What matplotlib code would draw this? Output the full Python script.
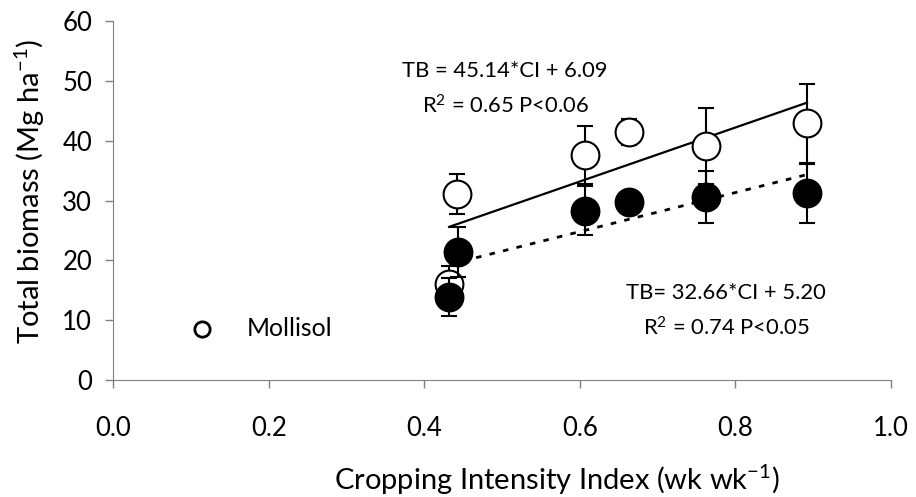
import matplotlib.pyplot as plt
import numpy as np

plt.rcParams['font.family'] = ['Lato', 'DejaVu Sans']
plt.rcParams['mathtext.fontset'] = 'custom'
plt.rcParams['mathtext.rm'] = 'Lato'
plt.rcParams['mathtext.it'] = 'Lato:italic'
plt.rcParams['mathtext.bf'] = 'Lato:bold'

# Open circles (Mollisol)
ci_open = [0.432, 0.442, 0.607, 0.663, 0.762, 0.892]
tb_open = [16.0, 31.1, 37.6, 41.5, 39.1, 42.9]
err_open = [3.1, 3.4, 4.9, 2.2, 6.4, 6.6]

# Filled circles
ci_fill = [0.432, 0.443, 0.607, 0.663, 0.762, 0.892]
tb_fill = [13.9, 21.4, 28.3, 29.8, 30.6, 31.2]
err_fill = [3.2, 4.2, 4.1, 0.0, 4.3, 4.9]

# regression fits (slope, intercept)
fit_open = (45.14, 6.09)
fit_fill = (32.66, 5.20)

fig = plt.figure(figsize=(9.16, 4.97), dpi=100)
ax = fig.add_axes([0.1234, 0.2354, 0.8493, 0.7223])

xs = np.array([min(ci_open), max(ci_open)])
ax.plot(xs, fit_open[0] * xs + fit_open[1], color='black', lw=1.6, zorder=1)
xf = np.array([min(ci_fill), max(ci_fill)])
ax.plot(xf, fit_fill[0] * xf + fit_fill[1], color='black', lw=2.0,
        linestyle=(0, (2, 3)), zorder=1)

ax.errorbar(ci_open, tb_open, yerr=err_open, fmt='o', ms=20, mfc='white',
            mec='black', mew=1.5, ecolor='black', elinewidth=1.5, capsize=6,
            capthick=1.5, zorder=2)
ax.errorbar(ci_fill, tb_fill, yerr=err_fill, fmt='o', ms=20, mfc='black',
            mec='black', mew=1.5, ecolor='black', elinewidth=1.5, capsize=6,
            capthick=1.5, zorder=3)

# legend entry
ax.plot([0.1144], [8.6], 'o', ms=11, mfc='white', mec='black', mew=2)
ax.text(0.172, 7.35, 'Mollisol', fontsize=17.8, va='baseline', ha='left')

ax.text(0.504, 50.6, 'TB = 45.14*CI + 6.09', fontsize=15.8, ha='center', va='baseline')
ax.text(0.505, 44.6, 'R$^2$ = 0.65 P<0.06', fontsize=15.8, ha='center', va='baseline')
ax.text(0.788, 13.5, 'TB= 32.66*CI + 5.20', fontsize=15.8, ha='center', va='baseline')
ax.text(0.788, 7.5, 'R$^2$ = 0.74 P<0.05', fontsize=15.8, ha='center', va='baseline')

ax.set_xlim(0, 1.0)
ax.set_ylim(0, 60)
ax.set_xticks(np.arange(0, 1.01, 0.2))
ax.set_xticklabels(['0.0', '0.2', '0.4', '0.6', '0.8', '1.0'])
ax.set_yticks(np.arange(0, 61, 10))
ax.tick_params(axis='both', labelsize=18.5, direction='out', length=6,
               color='#808080', width=1)
ax.tick_params(axis='x', pad=20)
ax.tick_params(axis='y', pad=9)
ax.spines['top'].set_visible(False)
ax.spines['right'].set_visible(False)
for s in ['left', 'bottom']:
    ax.spines[s].set_color('#808080')

ax.set_xlabel('Cropping Intensity Index (wk wk$^{-1}$)', fontsize=21)
ax.set_ylabel('Total biomass (Mg ha$^{-1}$)', fontsize=21)
ax.xaxis.set_label_coords(0.571, -0.23)
ax.yaxis.set_label_coords(-0.085, 0.524)

fig.savefig('out.png', dpi=100)
